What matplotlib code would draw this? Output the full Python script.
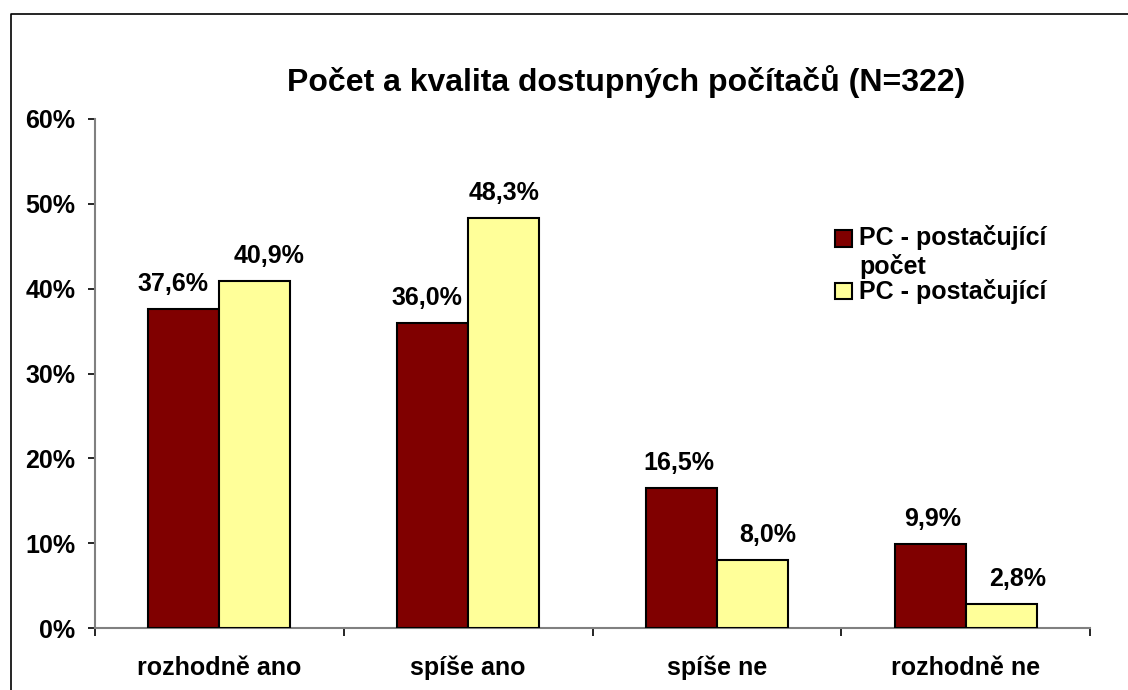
import numpy as np
import matplotlib
matplotlib.use("Agg")
import matplotlib.pyplot as plt
from matplotlib.patches import Rectangle
from matplotlib.lines import Line2D

# data
categories = ["rozhodně ano", "spíše ano", "spíše ne", "rozhodně ne"]
series_names = ["PC - postačující počet", "PC - postačující"]
pocet = [37.6, 36.0, 16.5, 9.9]
kvalita = [40.9, 48.3, 8.0, 2.8]
yticks = [0, 10, 20, 30, 40, 50, 60]
title = "Počet a kvalita dostupných počítačů (N=322)"

colors = ["#800000", "#FFFF99"]
# horizontal nudges of the value labels (points), like Excel placed them
nudge = [[-8, -4, -2, 2], [10, 0, 11, 12]]

plt.rcParams['font.family'] = ['Liberation Sans', 'DejaVu Sans']
plt.rcParams['font.weight'] = 'bold'
fs = 18

W, H = 1128, 690
fig = plt.figure(figsize=(W/100, H/100), dpi=100)
ax = fig.add_axes([95/W, 1-628/H, (1090-95)/W, (628-119)/H])

x = np.arange(len(categories))
bw = 0.285
for i, (vals, col, off) in enumerate([(pocet, colors[0], -bw/2), (kvalita, colors[1], bw/2)]):
    bars = ax.bar(x + off, vals, bw, color=col, edgecolor='black', linewidth=1.5, zorder=3)
    for j, (b, v) in enumerate(zip(bars, vals)):
        ax.annotate(("%.1f%%" % v).replace(".", ","),
                    (b.get_x() + b.get_width()/2, v), xytext=(nudge[i][j], 13),
                    textcoords='offset points', ha='center', va='baseline',
                    fontsize=fs, fontweight='bold')

ax.set_xlim(-0.5, len(categories) - 0.5)
ax.set_ylim(0, 60)
ax.set_yticks(yticks)
ax.set_yticklabels(["%d%%" % t for t in yticks], fontsize=fs, fontweight='bold')
ax.set_xticks(x)
ax.set_xticklabels(categories, fontsize=fs, fontweight='bold')
ax.set_xticks(np.arange(len(categories) + 1) - 0.5, minor=True)
ax.tick_params(axis='x', which='major', length=0, pad=20)
ax.tick_params(axis='x', which='minor', length=6, width=1.2, color='black')
ax.tick_params(axis='y', length=5, width=1.2, color='black', pad=9)

for s in ['top', 'right']:
    ax.spines[s].set_visible(False)
for s in ['left', 'bottom']:
    ax.spines[s].set_color('#808080')
    ax.spines[s].set_linewidth(1.5)

fig.text(626/W, 1-82/H, title, ha='center', va='center', fontsize=23, fontweight='bold')

# legend
lx = 835
for (y0, y1), col in zip([(230, 247), (283, 299)], colors):
    fig.add_artist(Rectangle((lx/W, 1-y1/H), 17/W, (y1-y0)/H, transform=fig.transFigure,
                             facecolor=col, edgecolor='black', linewidth=1.5))
lab1 = series_names[0].rsplit(" ", 1)
fig.text(859/W, 1-238/H, lab1[0], va='center', fontsize=fs, fontweight='bold')
fig.text(859/W, 1-266/H, lab1[1], va='center', fontsize=fs, fontweight='bold')
fig.text(859/W, 1-291/H, series_names[1], va='center', fontsize=fs, fontweight='bold')

# outer frame
fig.add_artist(Line2D([11/W, 11/W, 1.0], [0.0, 1-14/H, 1-14/H], transform=fig.transFigure,
                      color='black', linewidth=1.2))

fig.savefig("out.png", dpi=100)
